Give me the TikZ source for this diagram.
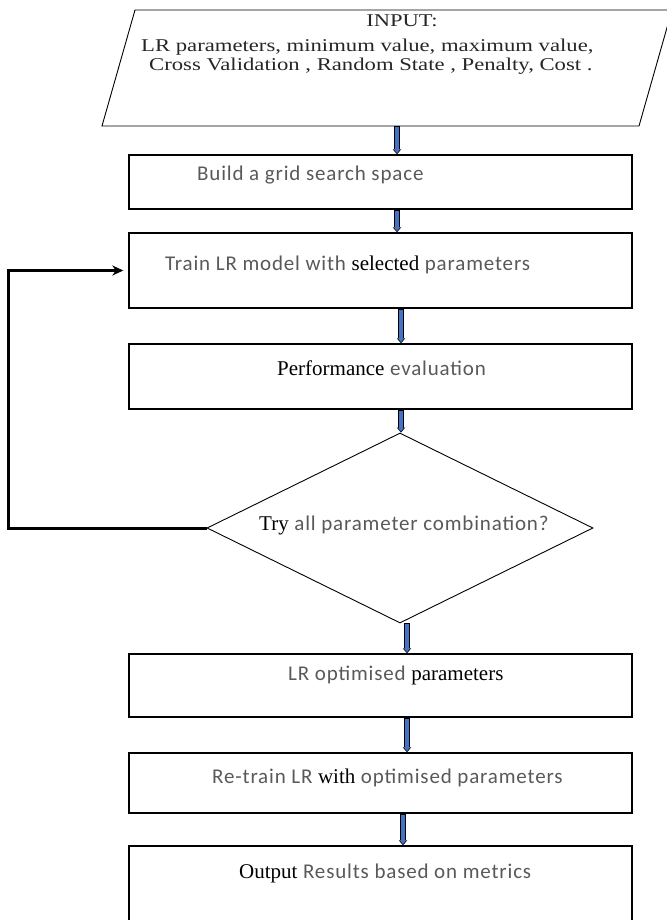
\documentclass[tikz,border=0pt]{standalone}
\usepackage{fontspec}
\usetikzlibrary{shapes.geometric,arrows.meta}
\newfontfamily\calib[LetterSpace=4]{Carlito}
\newfontfamily\tnr{Liberation Serif}
\definecolor{flowblue}{RGB}{68,114,196}
\tikzset{
  procbox/.style={draw, shape=rectangle, line width=1.4pt, minimum width=503pt, inner sep=0pt},
  txt/.style={anchor=west, inner sep=0pt, text=black!65, font=\calib\fontsize{21}{24}\selectfont},
  itxt/.style={inner sep=0pt, text=black!85, font=\tnr\fontsize{18}{20}\selectfont},
  flow/.style={line width=3.6pt, draw=flowblue, shorten <=1pt, shorten >=1.2pt,
    -{Triangle[width=6pt,length=3.5pt,line width=0pt,fill=flowblue]},
    preaction={draw=black, line width=5.6pt, shorten <=0pt, shorten >=0pt,
      -{Triangle[width=8.5pt,length=5pt,line width=0pt]}}},
  feedback/.style={line width=3pt, shorten >=5pt, -{Stealth[length=11pt,width=10pt]}},
}

\begin{document}
\begin{tikzpicture}[x=1pt,y=-1pt]
   \useasboundingbox (0,0) rectangle (666,920);
   % input
   \draw[line width=0.9pt] (102,126) -- (135,10) -- (672,10) -- (639,126) -- cycle;
   \coordinate (input) at (397,126);
   \path (402,21) node[itxt] (inhead) {\scalebox{1.25}[1]{INPUT:}};
   \path (141,47) node[itxt,anchor=west] (inl1) {\scalebox{1.26}[1]{LR parameters, minimum value, maximum value,}};
   \path (149,66) node[itxt,anchor=west] (inl2) {\scalebox{1.26}[1]{Cross Validation , Random State , Penalty, Cost .}};

   % boxes
   \path (380.5,182) node[procbox, minimum height=54pt] (build) {};
   \path (197,175) node[txt] (buildtxt) {Build a grid search space};
   \path (380.5,270.5) node[procbox, minimum height=75pt] (train) {};
   \path (165,265) node[txt] (traintxt) {Train LR model with {\tnr\color{black}selected} parameters};
   \path (380.5,376.5) node[procbox, minimum height=65pt] (perf) {};
   \path (277,368) node[txt] (perftxt) {{\tnr\color{black}Performance} evaluation};

   % decision
   \path (400,528) node[draw, shape=diamond, aspect=2, minimum width=386pt, minimum height=190pt,
     inner sep=0pt, line width=0.9pt] (try) {};
   \path (259,525) node[txt] (trytxt) {{\tnr\color{black}Try} all parameter combination?};

   \path (380.5,685.5) node[procbox, minimum height=63pt] (opt) {};
   \path (288,675) node[txt] (opttxt) {LR optimised {\tnr\color{black}parameters}};
   \path (380.5,783) node[procbox, minimum height=60pt] (retrain) {};
   \path (212,778) node[txt] (retraintxt) {Re-train LR {\tnr\color{black}with} optimised parameters};
   \path (380.5,886) node[procbox, minimum height=80pt] (output) {};
   \path (239,873) node[txt] (outputtxt) {{\tnr\color{black}Output} Results based on metrics};

   % arrows
   \draw[flow] (input) -- (397,0 |- build.north);
   \draw[flow] (397,0 |- build.south) -- (397,0 |- train.north);
   \draw[flow] (401,0 |- train.south) -- (401,0 |- perf.north);
   \draw[flow] (401,0 |- perf.south) -- (401,0 |- try.north);
   \draw[flow] (407,0 |- try.south) -- (407,0 |- opt.north);
   \draw[flow] (407,0 |- opt.south) -- (407,0 |- retrain.north);
   \draw[flow] (403,0 |- retrain.south) -- (403,0 |- output.north);

   % back to training
   \coordinate (back) at (8,528);
   \draw[feedback] (try.west) -- (back) |- (train.west);
\end{tikzpicture}
\end{document}
